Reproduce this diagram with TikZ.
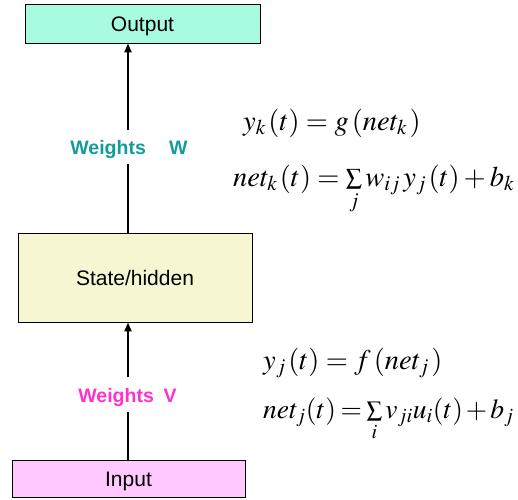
\documentclass[tikz,border=0pt]{standalone}
\usepackage{mathptmx}
\usepackage{graphicx}
\usepackage{fontspec}
\setsansfont{Liberation Sans}
\usetikzlibrary{arrows.meta}
\definecolor{outfill}{RGB}{166,251,224}
\definecolor{statefill}{RGB}{246,246,210}
\definecolor{infill}{RGB}{255,200,255}
\definecolor{wteal}{RGB}{20,155,155}
\definecolor{wmag}{RGB}{255,51,204}
\newcommand{\smallsum}{\mathop{\raisebox{1pt}{\scalebox{0.8}{$\sum$}}}\limits}
\tikzset{
  box/.style={draw=black, line width=0.8pt, inner sep=0pt, font=\sffamily\fontsize{21}{24}\selectfont},
  arr/.style={line width=2pt, -{Triangle[length=9pt,width=7pt]}},
  seg/.style={line width=2pt},
  wlabel/.style={font=\sffamily\bfseries\fontsize{19.5}{22}\selectfont, inner sep=0pt, text height=17pt, text depth=2pt, minimum height=34pt},
  eq/.style={anchor=base west, inner sep=0pt, font=\fontsize{28.5}{32}\selectfont}
}
\begin{document}
\begin{tikzpicture}[x=1pt,y=-1pt]
\useasboundingbox (0,0) rectangle (518,499);
\node[box, fill=outfill, minimum width=235pt, minimum height=39pt, text height=19pt, text depth=4pt] (out) at (142.5,23.5) {Output};
\node[box, fill=statefill, minimum width=234pt, minimum height=89pt] (state) at (135,277.5) {State/hidden};
\node[box, fill=infill, minimum width=233pt, minimum height=37pt, text height=19pt, text depth=4pt] (in) at (128.5,478.5) {Input};
\node[wlabel, text=wteal] (wW) at (129,147) {Weights\hspace{1.2em}W};
\node[wlabel, text=wmag] (wV) at (127.5,394.5) {Weights\hspace{0.5em}V};
\draw[seg] (state.north -| 128,0) -- (wW.south -| 128,0);
\draw[arr] (wW.north -| 128,0) -- (out.south -| 128,0);
\draw[seg] (in.north -| 128,0) -- (wV.south -| 128,0);
\draw[arr] (wV.north -| 128,0) -- (state.south -| 128,0);
\node[eq] (e1) at (243,130) {$y_{k\,}(t) = g\,(net_{k\,})$};
\node[eq] (e2) at (233,186) {$net_{k\,}(t) = \smallsum_j w_{ij}\,y_{j\,}(t) + b_k$};
\node[eq] (e3) at (263,369) {$y_{j\,}(t) = f\,(net_{j\,})$};
\node[eq, font=\fontsize{27.5}{32}\selectfont] (e4) at (263,418) {\thickmuskip=3mu\medmuskip=2mu$net_j(t) = \smallsum_i v_{ji}u_i(t) + b_j$};
\end{tikzpicture}
\end{document}
